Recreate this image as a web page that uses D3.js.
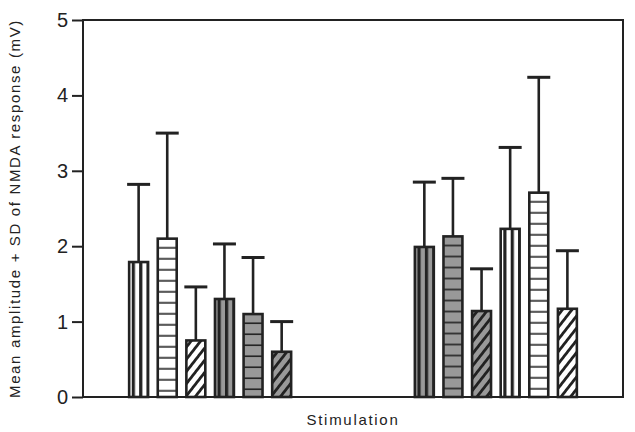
<!DOCTYPE html>
<html>
<head>
<meta charset="utf-8">
<script src="https://cdn.jsdelivr.net/npm/d3@7"></script>
<style>
  body { margin: 0; background: #fff; }
  text { font-family: "Liberation Sans", Arial, sans-serif; fill: #222; }
</style>
</head>
<body>
<div id="chart"></div>
<script>
// Chart values.
var groups = ["g1", "g2"];
var series = ["s1", "s2", "s3", "s4", "s5", "s6"];
var meansG1 = [1.79, 2.10, 0.75, 1.30, 1.10, 0.60];
var sdG1 = [1.03, 1.40, 0.71, 0.73, 0.75, 0.40];
var meansG2 = [1.99, 2.13, 1.14, 2.23, 2.71, 1.17];
var sdG2 = [0.86, 0.77, 0.56, 1.08, 1.53, 0.77];
var yTicks = [0, 1, 2, 3, 4, 5];
var xLabel = "Stimulation";
var yLabel = "Mean amplitude + SD of NMDA response (mV)";

// Fill style per bar (background + stripe kind).
var patternG1 = ["wv", "wh", "wd", "gv", "gh", "gd"];
var patternG2 = ["gv", "gh", "gd", "wv", "wh", "wd"];

var svgWidth = 635;
var svgHeight = 432;
var margin = { top: 20, right: 12, bottom: 35, left: 83 };
var chartWidth = svgWidth - margin.left - margin.right;
var chartHeight = svgHeight - margin.top - margin.bottom;
var ink = "#222";
var grey = "#999";

var svg = d3.select("#chart").append("svg").attr("width", svgWidth).attr("height", svgHeight);
var defs = svg.append("defs");
var chartGroup = svg.append("g").attr("transform", `translate(${margin.left},${margin.top})`);

var data = [];
groups.forEach((g, gi) => {
    var m = gi == 0 ? meansG1 : meansG2;
    var s = gi == 0 ? sdG1 : sdG2;
    var p = gi == 0 ? patternG1 : patternG2;
    series.forEach((k, i) => data.push({ group: g, key: k, mean: m[i], sd: s[i], pat: p[i] }));
});

var x0 = d3.scaleBand().domain(groups).range([0, chartWidth]).paddingInner(0.4).paddingOuter(0.145);
var x1 = d3.scaleBand().domain(series).range([0, x0.bandwidth()]).paddingInner(0.338).paddingOuter(0.165);
var yScale = d3.scaleLinear().domain([0, 5]).range([chartHeight, 0]);

function barX(d) { return x0(d.group) + x1(d.key); }

// One pattern per bar so stripes line up with each bar's edge.
data.forEach((d, i) => {
    var bx = margin.left + barX(d);
    var by = margin.top + yScale(d.mean);
    var bg = d.pat[0] == "g" ? grey : "#fff";
    var kind = d.pat[1];
    var pat = defs.append("pattern").attr("id", "p" + i).attr("patternUnits", "userSpaceOnUse");
    if (kind == "v") {
        pat.attr("x", bx + 1).attr("y", 0).attr("width", 7.4).attr("height", 10);
        pat.append("rect").attr("width", 7.4).attr("height", 10).attr("fill", bg);
        pat.append("rect").attr("x", 0).attr("width", 3.2).attr("height", 10).attr("fill", ink);
    } else if (kind == "h") {
        pat.attr("x", 0).attr("y", by + 1).attr("width", 10).attr("height", 11);
        pat.append("rect").attr("width", 10).attr("height", 11).attr("fill", bg);
        pat.append("rect").attr("y", 9.4).attr("width", 10).attr("height", 2.4).attr("fill", ink);
    } else {
        pat.attr("x", bx).attr("y", by).attr("width", 7.5).attr("height", 7.5)
            .attr("patternTransform", `rotate(38 ${bx} ${by})`);
        pat.append("rect").attr("width", 7.5).attr("height", 7.5).attr("fill", bg);
        pat.append("rect").attr("x", 0).attr("width", 2.8).attr("height", 7.5).attr("fill", ink);
    }
});

// Error bars (drawn first so the bar border sits on top).
var errGroup = chartGroup.append("g");
errGroup.selectAll("line.err").data(data).enter().append("line")
    .attr("x1", d => barX(d) + x1.bandwidth() / 2)
    .attr("x2", d => barX(d) + x1.bandwidth() / 2)
    .attr("y1", d => yScale(d.mean))
    .attr("y2", d => yScale(d.mean + d.sd))
    .attr("stroke", ink).attr("stroke-width", 2.6);
errGroup.selectAll("line.cap").data(data).enter().append("line")
    .attr("x1", d => barX(d) + x1.bandwidth() / 2 - 11.5)
    .attr("x2", d => barX(d) + x1.bandwidth() / 2 + 11.5)
    .attr("y1", d => yScale(d.mean + d.sd))
    .attr("y2", d => yScale(d.mean + d.sd))
    .attr("stroke", ink).attr("stroke-width", 3);

// Bars.
chartGroup.selectAll("rect.bar").data(data).enter().append("rect")
    .attr("class", "bar")
    .attr("x", d => barX(d))
    .attr("y", d => yScale(d.mean))
    .attr("width", x1.bandwidth())
    .attr("height", d => chartHeight - yScale(d.mean))
    .attr("fill", (d, i) => `url(#p${i})`)
    .attr("stroke", ink).attr("stroke-width", 2.6);

// Frame: left axis, bottom, top and right lines.
chartGroup.append("rect").attr("x", 0).attr("y", 0).attr("width", chartWidth).attr("height", chartHeight)
    .attr("fill", "none").attr("stroke", ink).attr("stroke-width", 2);

var leftAxis = d3.axisLeft(yScale).tickValues(yTicks).tickFormat(d3.format("d")).tickSize(11).tickPadding(4);
var yAxis = chartGroup.append("g").call(leftAxis);
yAxis.select(".domain").remove();
yAxis.selectAll(".tick line").attr("stroke", ink).attr("stroke-width", 2);
yAxis.selectAll(".tick text").attr("font-size", "20px").attr("fill", ink)
    .style("font-family", "'Liberation Sans', Arial, sans-serif");

// Axis labels.
svg.append("text")
    .attr("transform", `translate(20, ${margin.top + chartHeight / 2}) rotate(-90)`)
    .attr("text-anchor", "middle")
    .attr("font-size", "15px")
    .attr("letter-spacing", "1.65px")
    .text(yLabel);

svg.append("text")
    .attr("x", margin.left + chartWidth / 2)
    .attr("y", 425)
    .attr("text-anchor", "middle")
    .attr("font-size", "15px")
    .attr("letter-spacing", "1.7px")
    .text(xLabel);
</script>
</body>
</html>
